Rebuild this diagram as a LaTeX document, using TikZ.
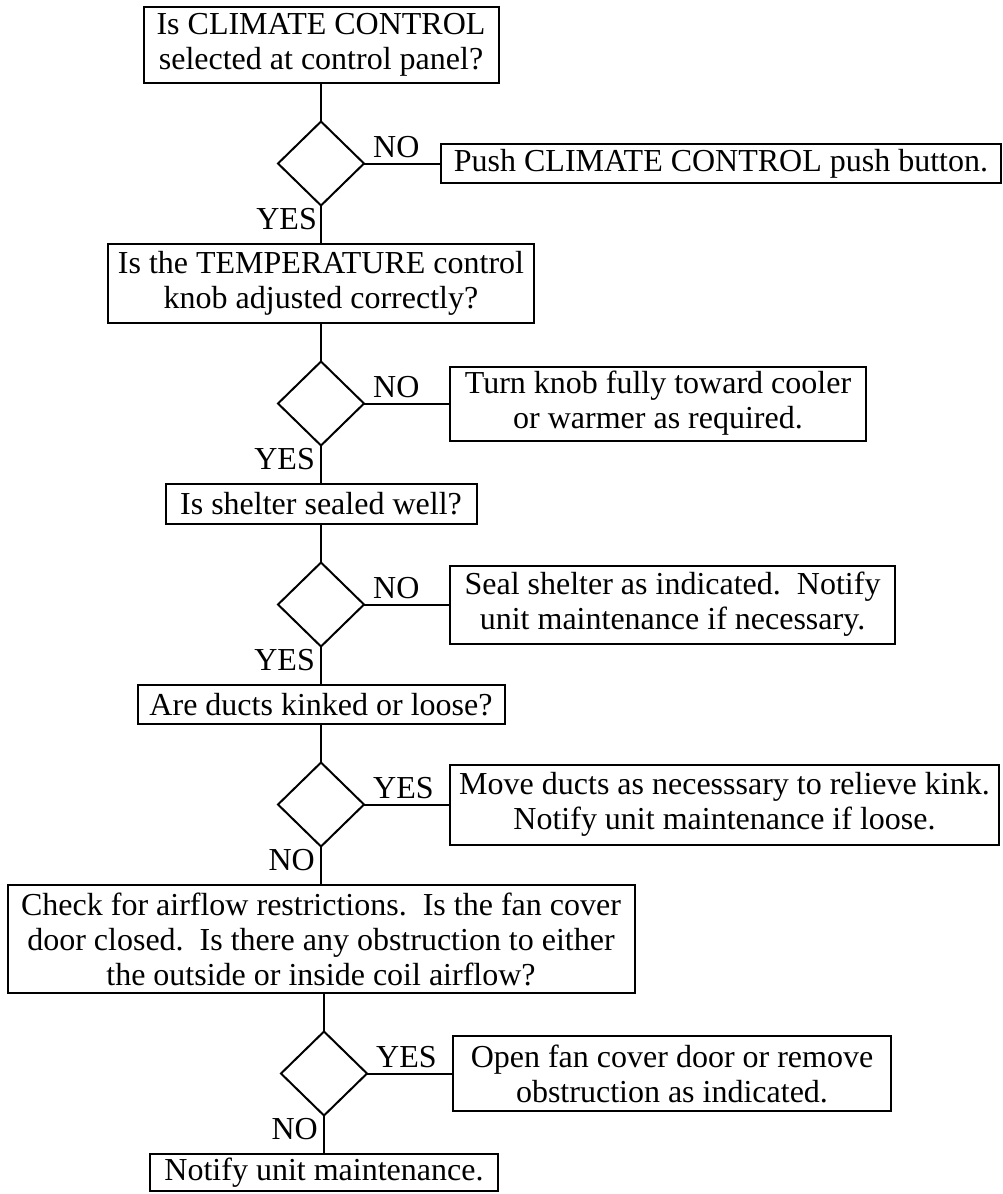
\documentclass[tikz,border=0pt]{standalone}
\usepackage{fontspec}
\setmainfont{Liberation Serif}
\usepackage{tikz}
\usetikzlibrary{shapes.geometric,positioning,calc}
\newcommand{\fsz}{\fontsize{32}{35}\selectfont}
\tikzset{
  basebox/.style={rectangle,draw=black,line width=2pt,outer sep=0pt,align=center,font=\fsz,inner xsep=3pt,inner ysep=3pt},
  asknode/.style={basebox},
  actnode/.style={basebox},
  choicenode/.style={diamond,draw=black,line width=2pt,outer sep=0pt,minimum width=86pt,minimum height=84pt,inner sep=0pt},
  anslabel/.style={font=\fsz,inner sep=0pt},
  link/.style={line width=2pt}
}

\begin{document}
\begin{tikzpicture}[x=1pt,y=1pt,node distance=38.5pt and 86pt]
  \useasboundingbox (0,0) rectangle (1002,-1194);
  %% Questions down the middle
  \node[asknode,minimum width=355pt,minimum height=76pt] (q1) at (321,-45)
      {Is CLIMATE CONTROL\\selected at control panel?};
  \node[choicenode,below=of q1] (d1) {};
  \node[asknode,below=of d1,minimum width=426pt,minimum height=79pt] (q2)
      {Is the TEMPERATURE control\\knob adjusted correctly?};
  \node[choicenode,below=of q2] (d2) {};
  \node[asknode,below=of d2,minimum width=311pt,minimum height=40pt] (q3) {Is shelter sealed well?};
  \node[choicenode,below=of q3] (d3) {};
  \node[asknode,below=of d3,minimum width=367pt,minimum height=39pt] (q4) {Are ducts kinked or loose?};
  \node[choicenode,below=of q4] (d4) {};
  \node[asknode,below=of d4,minimum width=627pt,minimum height=108pt] (q5)
      {Check for airflow restrictions.\ \ Is the fan cover\\door closed.\ \ Is there any obstruction to either\\the outside or inside coil airflow?};
  \node[choicenode,below=of q5,xshift=3pt] (d5) {};
  \node[asknode,below=of d5,minimum width=348pt,minimum height=37pt] (q6) {Notify unit maintenance.};

  %% Actions on the right
  \node[actnode,right=77pt of d1,minimum width=560pt,minimum height=39pt] (a1) {Push CLIMATE CONTROL push button.};
  \node[actnode,right=of d2,minimum width=416pt,minimum height=74pt] (a2)
      {Turn knob fully toward cooler\\or warmer as required.};
  \node[actnode,right=of d3,minimum width=445pt,minimum height=78pt] (a3)
      {Seal shelter as indicated.\ \ Notify\\unit maintenance if necessary.};
  \node[actnode,right=of d4,minimum width=549pt,minimum height=80pt] (a4)
      {Move ducts as necesssary to relieve kink.\\Notify unit maintenance if loose.};
  \node[actnode,right=of d5,minimum width=438pt,minimum height=75pt] (a5)
      {Open fan cover door or remove\\obstruction as indicated.};

  %% Connectors
  \draw[link] (q1) -- (d1);
  \draw[link] (d1) -- (q2);
  \draw[link] (q2) -- (d2);
  \draw[link] (d2) -- (q3);
  \draw[link] (q3) -- (d3);
  \draw[link] (d3) -- (q4);
  \draw[link] (q4) -- (d4);
  \draw[link] (d4) -- (q5);
  \draw[link] (d5 |- q5.south) -- (d5);
  \draw[link] (d5) -- (q6);
  \draw[link] (d1) -- (a1);
  \draw[link] (d2) -- (a2);
  \draw[link] (d3) -- (a3);
  \draw[link] (d4) -- (a4);
  \draw[link] (d5) -- (a5);

  %% Answers
  \node[anslabel,anchor=base west] (no1) at ($(d1.east)+(9pt,6pt)$) {NO};
  \node[anslabel,anchor=base west] (no2) at ($(d2.east)+(9pt,6pt)$) {NO};
  \node[anslabel,anchor=base west] (no3) at ($(d3.east)+(9pt,6pt)$) {NO};
  \node[anslabel,anchor=base west] (yes4) at ($(d4.east)+(9pt,6pt)$) {YES};
  \node[anslabel,anchor=base west] (yes5) at ($(d5.east)+(9pt,6pt)$) {YES};
  \node[anslabel,anchor=base east] (yes1) at ($(d1.south)+(-4pt,-24pt)$) {YES};
  \node[anslabel,anchor=base east] (yes2) at ($(d2.south)+(-6pt,-24pt)$) {YES};
  \node[anslabel,anchor=base east] (yes3) at ($(d3.south)+(-6pt,-24pt)$) {YES};
  \node[anslabel,anchor=base east] (no4) at ($(d4.south)+(-6pt,-24pt)$) {NO};
  \node[anslabel,anchor=base east] (no5) at ($(d5.south)+(-6pt,-24pt)$) {NO};
\end{tikzpicture}
\end{document}
